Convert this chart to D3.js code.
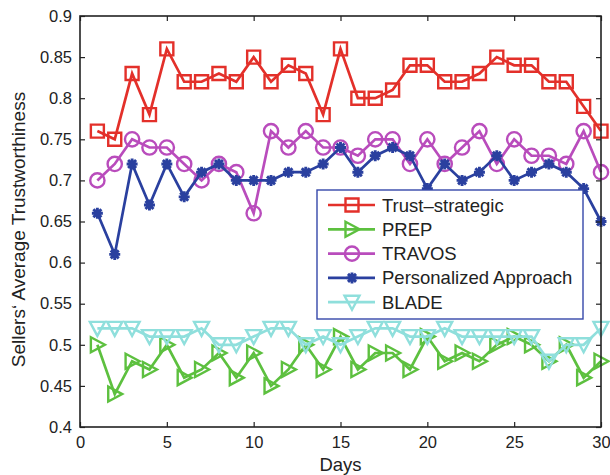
<!DOCTYPE html>
<html>
<head>
<meta charset="utf-8">
<script src="https://cdn.jsdelivr.net/npm/d3@7"></script>
<style>
  body { margin: 0; background: #fff; }
  text { font-family: "Liberation Sans", Arial, sans-serif; fill: #222; }
</style>
</head>
<body>
<div class="graph"><svg></svg></div>
<script>
// data
const days = d3.range(1, 31)
const trustStrategic = [0.76, 0.75, 0.83, 0.78, 0.86, 0.82, 0.82, 0.83, 0.82, 0.85, 0.82, 0.84, 0.83, 0.78, 0.86,
  0.80, 0.80, 0.81, 0.84, 0.84, 0.82, 0.82, 0.83, 0.85, 0.84, 0.84, 0.82, 0.82, 0.79, 0.76]
const prep = [0.50, 0.44, 0.48, 0.47, 0.50, 0.46, 0.47, 0.49, 0.46, 0.49, 0.45, 0.47, 0.50, 0.47, 0.51,
  0.47, 0.49, 0.49, 0.47, 0.51, 0.48, 0.49, 0.48, 0.50, 0.51, 0.50, 0.48, 0.50, 0.46, 0.48]
const travos = [0.70, 0.72, 0.75, 0.74, 0.74, 0.72, 0.70, 0.72, 0.71, 0.66, 0.76, 0.74, 0.76, 0.74, 0.74,
  0.73, 0.75, 0.75, 0.72, 0.75, 0.72, 0.74, 0.76, 0.72, 0.75, 0.73, 0.73, 0.72, 0.76, 0.71]
const personalized = [0.66, 0.61, 0.72, 0.67, 0.72, 0.68, 0.71, 0.72, 0.70, 0.70, 0.70, 0.71, 0.71, 0.72, 0.74,
  0.71, 0.73, 0.74, 0.73, 0.69, 0.72, 0.70, 0.71, 0.73, 0.70, 0.71, 0.72, 0.71, 0.69, 0.65]
const blade = [0.52, 0.52, 0.52, 0.51, 0.51, 0.51, 0.52, 0.50, 0.50, 0.51, 0.52, 0.52, 0.50, 0.51, 0.50,
  0.51, 0.52, 0.52, 0.51, 0.51, 0.52, 0.51, 0.51, 0.51, 0.51, 0.51, 0.48, 0.50, 0.50, 0.52]
const seriesNames = ['Trust\u2013strategic', 'PREP', 'TRAVOS', 'Personalized Approach', 'BLADE']
const xTicks = [0, 5, 10, 15, 20, 25, 30]
const yTicks = [0.4, 0.45, 0.5, 0.55, 0.6, 0.65, 0.7, 0.75, 0.8, 0.85, 0.9]

const width = 610
const height = 475
const margin = { top: 16, right: 9, bottom: 48, left: 80 }

const series = [
  { name: seriesNames[0], values: trustStrategic, color: '#e3302a', marker: 'square' },
  { name: seriesNames[1], values: prep, color: '#5dc03f', marker: 'right' },
  { name: seriesNames[2], values: travos, color: '#b94cbc', marker: 'circle' },
  { name: seriesNames[3], values: personalized, color: '#2a409f', marker: 'star' },
  { name: seriesNames[4], values: blade, color: '#8fdfdc', marker: 'down' }
]

const svg = d3.select('.graph').select('svg')
  .attr('width', width)
  .attr('height', height)

const x = d3.scaleLinear().domain([0, 30]).range([margin.left, width - margin.right])
const y = d3.scaleLinear().domain([0.4, 0.9]).range([height - margin.bottom, margin.top])

/**
 * Draws one marker of the given kind into g.
 */
function drawMarker (g, kind, color) {
  const m = g.append('path')
    .attr('fill', 'none')
    .attr('stroke', color)
    .attr('stroke-width', 2.4)
  if (kind === 'square') m.attr('d', 'M-6.5,-6.5H6.5V6.5H-6.5Z')
  if (kind === 'right') m.attr('d', 'M-6.5,-7.5L7.5,0L-6.5,7.5Z')
  if (kind === 'down') m.attr('d', 'M-7.5,-6.5H7.5L0,7.5Z')
  if (kind === 'circle') m.attr('d', d3.symbol(d3.symbolCircle, 160)())
  if (kind === 'star') {
    m.attr('d', 'M-5.5,0H5.5M0,-5.5V5.5M-4,-4L4,4M-4,4L4,-4')
      .attr('stroke-width', 2.9)
  }
}

// plot lines and markers
const line = d3.line().x((d, i) => x(days[i])).y(d => y(d))
series.forEach(s => {
  const g = svg.append('g').attr('class', 'series')
  g.append('path')
    .datum(s.values)
    .attr('d', line)
    .attr('fill', 'none')
    .attr('stroke', s.color)
    .attr('stroke-width', 2.7)
  s.values.forEach((v, i) => {
    const mg = g.append('g').attr('transform', `translate(${x(days[i])},${y(v)})`)
    drawMarker(mg, s.marker, s.color)
  })
})

// axes
const axisG = svg.append('g')
axisG.append('g')
  .attr('transform', `translate(0,${y(0.4)})`)
  .call(d3.axisBottom(x).tickValues(xTicks).tickSizeInner(-5).tickSizeOuter(0).tickPadding(9).tickFormat(d3.format('d')))
axisG.append('g')
  .attr('transform', `translate(0,${y(0.9)})`)
  .call(d3.axisTop(x).tickValues(xTicks).tickSizeInner(-5).tickSizeOuter(0).tickFormat(''))
axisG.append('g')
  .attr('transform', `translate(${x(0)},0)`)
  .call(d3.axisLeft(y).tickValues(yTicks).tickSizeInner(-5).tickSizeOuter(0).tickPadding(8).tickFormat(d => d3.format('')(+d.toFixed(2))))
axisG.append('g')
  .attr('transform', `translate(${x(30)},0)`)
  .call(d3.axisRight(y).tickValues(yTicks).tickSizeInner(-5).tickSizeOuter(0).tickFormat(''))
axisG.selectAll('.domain').remove()
axisG.selectAll('line').attr('stroke', '#222').attr('stroke-width', 1.2)
axisG.selectAll('text')
  .attr('font-size', 16.5)
  .attr('font-family', '"Liberation Sans", Arial, sans-serif')
  .attr('fill', '#222')

svg.append('rect')
  .attr('x', x(0))
  .attr('y', y(0.9))
  .attr('width', x(30) - x(0))
  .attr('height', y(0.4) - y(0.9))
  .attr('fill', 'none')
  .attr('stroke', '#222')
  .attr('stroke-width', 1.6)

// axis labels
svg.append('text')
  .text('Days')
  .attr('x', (x(0) + x(30)) / 2)
  .attr('y', 471)
  .attr('text-anchor', 'middle')
  .attr('font-size', 18.5)

svg.append('text')
  .text('Sellers\u2018 Average Trustworthiness')
  .attr('transform', `translate(25,${(y(0.4) + y(0.9)) / 2 + 8}) rotate(-90)`)
  .attr('text-anchor', 'middle')
  .attr('font-size', 19)

// legend
const legend = svg.append('g').attr('transform', 'translate(317,190)')
legend.append('rect')
  .attr('width', 266)
  .attr('height', 129)
  .attr('fill', '#fff')
  .attr('stroke', '#3548aa')
  .attr('stroke-width', 1.4)
series.forEach((s, i) => {
  const row = legend.append('g').attr('transform', `translate(0,${15 + i * 24.3})`)
  row.append('line')
    .attr('x1', 11).attr('x2', 58)
    .attr('stroke', s.color)
    .attr('stroke-width', 2.7)
  drawMarker(row.append('g').attr('transform', 'translate(35,0)'), s.marker, s.color)
  row.append('text')
    .text(s.name)
    .attr('x', 65)
    .attr('y', 6.5)
    .attr('font-size', 18.5)
})
</script>
</body>
</html>
